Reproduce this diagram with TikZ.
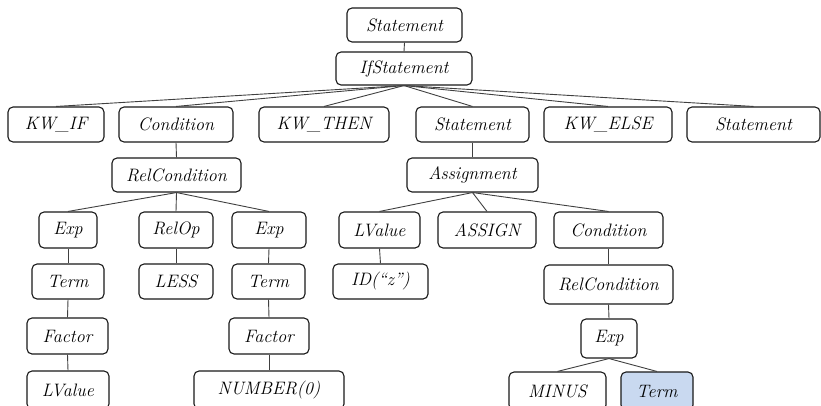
\documentclass[tikz,border=0pt]{standalone}
\usepackage{fontspec}
\begin{document}
\begin{tikzpicture}[x=1pt,y=-1pt,
  tn/.style={draw=black!90, line width=1.1pt, rounded corners=5pt, fill=white,
    inner sep=0pt, font=\fontsize{18}{20}\selectfont\itshape},
  hl/.style={fill=hlblue},
  edge/.style={draw=black!75, line width=0.9pt}]
\definecolor{hlblue}{HTML}{C9D9F0}
\clip (0,0) rectangle (821,405);
\useasboundingbox (0,0) rectangle (821,405);
% nodes: name, centre, width, height, text
\newcommand{\tnode}[6][]{\node[tn,#1,minimum width=#4pt,minimum height=#5pt] (#2) at (#3) {#6};}
\tnode{st0}{404.5,25}{115}{34}{Statement}
\tnode{ifs}{404,68.5}{136}{33}{IfStatement}
% second level
\tnode{kwif}{56,124.5}{96}{35}{KW\_IF}
\tnode{cond1}{176,124.5}{114}{35}{Condition}
\tnode{kwthen}{324,124.5}{130}{35}{KW\_THEN}
\tnode{st1}{472.5,124.5}{113}{35}{Statement}
\tnode{kwelse}{608,124.5}{128}{35}{KW\_ELSE}
\tnode{st2}{753.5,124.5}{133}{35}{Statement}
% third level
\tnode{relc1}{176.5,175}{129}{34}{RelCondition}
\tnode{assign}{472.5,175}{131}{34}{Assignment}
% fourth level
\tnode{exp1}{68,230}{58}{36}{Exp}
\tnode{relop}{176,230}{74}{36}{RelOp}
\tnode{exp2}{269,230}{74}{36}{Exp}
\tnode{lval1}{379.5,230}{81}{36}{LValue}
\tnode{asgn}{487,230}{98}{36}{ASSIGN}
\tnode{cond2}{608.5,230}{109}{36}{Condition}
% fifth level
\tnode{term1}{68,281.5}{72}{35}{Term}
\tnode{less}{176,281.5}{74}{35}{LESS}
\tnode{term2}{268.5,281.5}{73}{35}{Term}
\tnode{idz}{380.5,281.5}{95}{35}{ID(“z”)}
\tnode{relc2}{608.5,284.5}{129}{39}{RelCondition}
% sixth level
\tnode{fac1}{67.5,336}{81}{36}{Factor}
\tnode{fac2}{269,336}{80}{36}{Factor}
\tnode{exp3}{609,338.5}{56}{39}{Exp}
% seventh level
\tnode{lval2}{68,390}{82}{38}{LValue}
\tnode{num}{269,390}{150}{38}{NUMBER(0)}
\tnode{minus}{557.5,391}{97}{38}{MINUS}
\tnode[hl]{term3}{657,391}{72}{38}{Term}
% connectors: parent bottom to child top
\foreach \a/\b in {st0/ifs,ifs/kwif,ifs/cond1,ifs/kwthen,ifs/st1,ifs/kwelse,ifs/st2,
  cond1/relc1,relc1/exp1,relc1/relop,relc1/exp2,exp1/term1,term1/fac1,fac1/lval2,
  relop/less,exp2/term2,term2/fac2,fac2/num,st1/assign,assign/lval1,assign/asgn,
  assign/cond2,lval1/idz,cond2/relc2,relc2/exp3,exp3/minus,exp3/term3}
  \draw[edge] (\a.south) -- (\b.north);
\end{tikzpicture}
\end{document}
